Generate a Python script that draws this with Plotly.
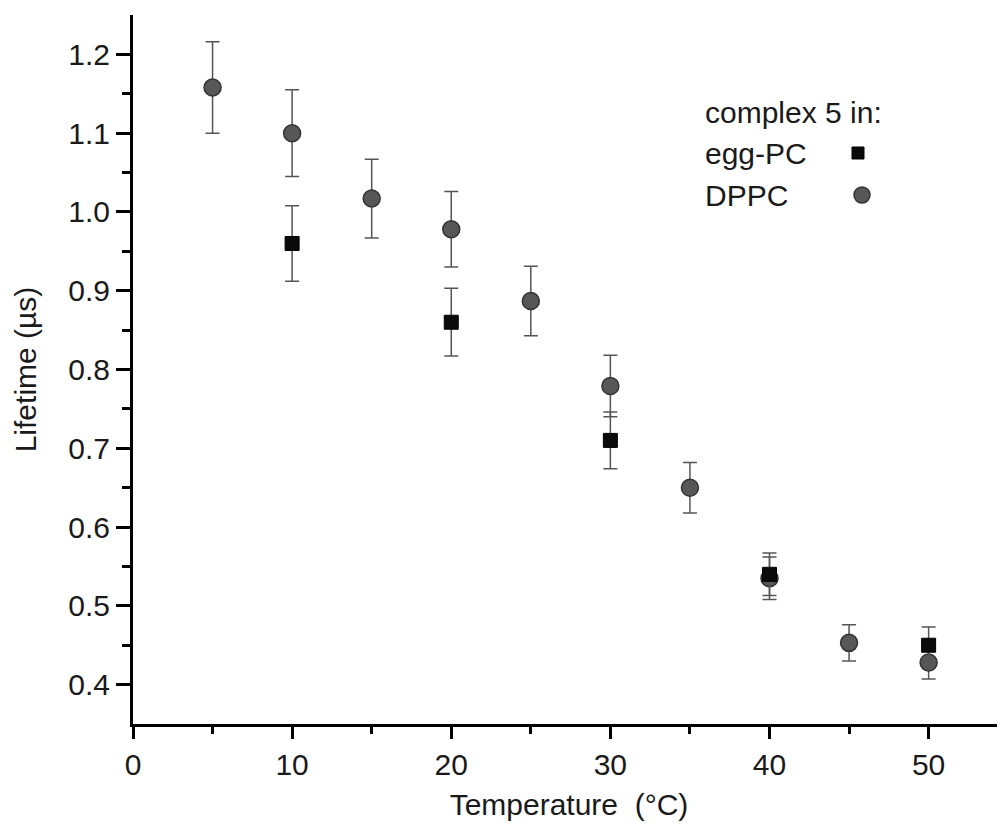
import plotly.graph_objects as go

# Data
dppc_temp = [5, 10, 15, 20, 25, 30, 35, 40, 45, 50]
dppc_life = [1.158, 1.100, 1.017, 0.978, 0.887, 0.779, 0.650, 0.535, 0.453, 0.428]
dppc_err = [0.058, 0.055, 0.050, 0.048, 0.044, 0.039, 0.032, 0.027, 0.023, 0.021]

egg_temp = [10, 20, 30, 40, 50]
egg_life = [0.960, 0.860, 0.710, 0.540, 0.450]
egg_err = [0.048, 0.043, 0.036, 0.027, 0.023]

legend_title = "complex 5 in:"
series_names = ["egg-PC", "DPPC"]

FONT = "Liberation Sans, Arial, sans-serif"
TXT = "#1a1a1a"
FS = 30

fig = go.Figure()
fig.add_trace(go.Scatter(
    x=dppc_temp, y=dppc_life, mode="markers", name=series_names[1],
    marker=dict(symbol="circle", size=17, color="#575757", line=dict(color="#333333", width=1.5)),
    error_y=dict(type="data", array=dppc_err, visible=True, color="#555555", thickness=1.5, width=7),
    showlegend=False,
))
fig.add_trace(go.Scatter(
    x=egg_temp, y=egg_life, mode="markers", name=series_names[0],
    marker=dict(symbol="square", size=14, color="#0a0a0a", line=dict(color="#000000", width=1)),
    error_y=dict(type="data", array=egg_err, visible=True, color="#555555", thickness=1.5, width=7),
    showlegend=False,
))

# Legend drawn as text + marker shapes (symbols on the right of the text)
x0p = (703 - 133) / 872
fig.add_annotation(xref="paper", yref="paper", x=x0p, y=(724 - 112) / 709, text=legend_title,
                   showarrow=False, xanchor="left", yanchor="middle", font=dict(family=FONT, size=FS, color=TXT))
fig.add_annotation(xref="paper", yref="paper", x=x0p, y=(724 - 153) / 709, text=series_names[0],
                   showarrow=False, xanchor="left", yanchor="middle", font=dict(family=FONT, size=FS, color=TXT))
fig.add_annotation(xref="paper", yref="paper", x=x0p, y=(724 - 195) / 709, text=series_names[1],
                   showarrow=False, xanchor="left", yanchor="middle", font=dict(family=FONT, size=FS, color=TXT))
fig.add_shape(type="rect", xref="paper", yref="paper", xsizemode="pixel", ysizemode="pixel",
              xanchor=(858 - 133) / 872, yanchor=(724 - 153) / 709, x0=-6, x1=6, y0=-6, y1=6,
              fillcolor="#0a0a0a", line=dict(color="#000000", width=1))
fig.add_shape(type="circle", xref="paper", yref="paper", xsizemode="pixel", ysizemode="pixel",
              xanchor=(862 - 133) / 872, yanchor=(724 - 195) / 709, x0=-8, x1=8, y0=-8, y1=8,
              fillcolor="#575757", line=dict(color="#333333", width=1.5))

fig.update_layout(
    width=1005, height=837,
    margin=dict(l=125, r=8, t=7, b=121, autoexpand=False),
    paper_bgcolor="white", plot_bgcolor="white",
    font=dict(family=FONT, size=FS, color=TXT),
    showlegend=False,
)
fig.update_xaxes(
    range=[0, 54.8], showgrid=False, zeroline=False, automargin=False,
    showline=True, linecolor="black", linewidth=3,
    ticks="outside", ticklen=12, tickwidth=3, tickcolor="black",
    tickmode="array", tickvals=[0, 10, 20, 30, 40, 50],
    tickfont=dict(family=FONT, size=FS, color=TXT),
    minor=dict(ticks="outside", ticklen=7, tickwidth=3, tickcolor="black", tickvals=[5, 15, 25, 35, 45], showgrid=False),
    title=dict(text="Temperature \u00a0(°C)", font=dict(family=FONT, size=FS, color=TXT), standoff=14),
)
fig.update_yaxes(
    range=[0.35, 1.25], showgrid=False, zeroline=False, automargin=False,
    showline=True, linecolor="black", linewidth=3,
    ticks="outside", ticklen=14, tickwidth=3, tickcolor="black",
    tickmode="array", tickvals=[0.4, 0.5, 0.6, 0.7, 0.8, 0.9, 1.0, 1.1, 1.2],
    ticktext=["0.4", "0.5", "0.6", "0.7", "0.8", "0.9", "1.0", "1.1", "1.2"],
    tickfont=dict(family=FONT, size=FS, color=TXT),
    minor=dict(ticks="outside", ticklen=8, tickwidth=3, tickcolor="black",
               tickvals=[0.45, 0.55, 0.65, 0.75, 0.85, 0.95, 1.05, 1.15], showgrid=False),
    title=dict(text="Lifetime (µs)", font=dict(family=FONT, size=FS, color=TXT), standoff=23),
)

fig.write_html("out.html")
